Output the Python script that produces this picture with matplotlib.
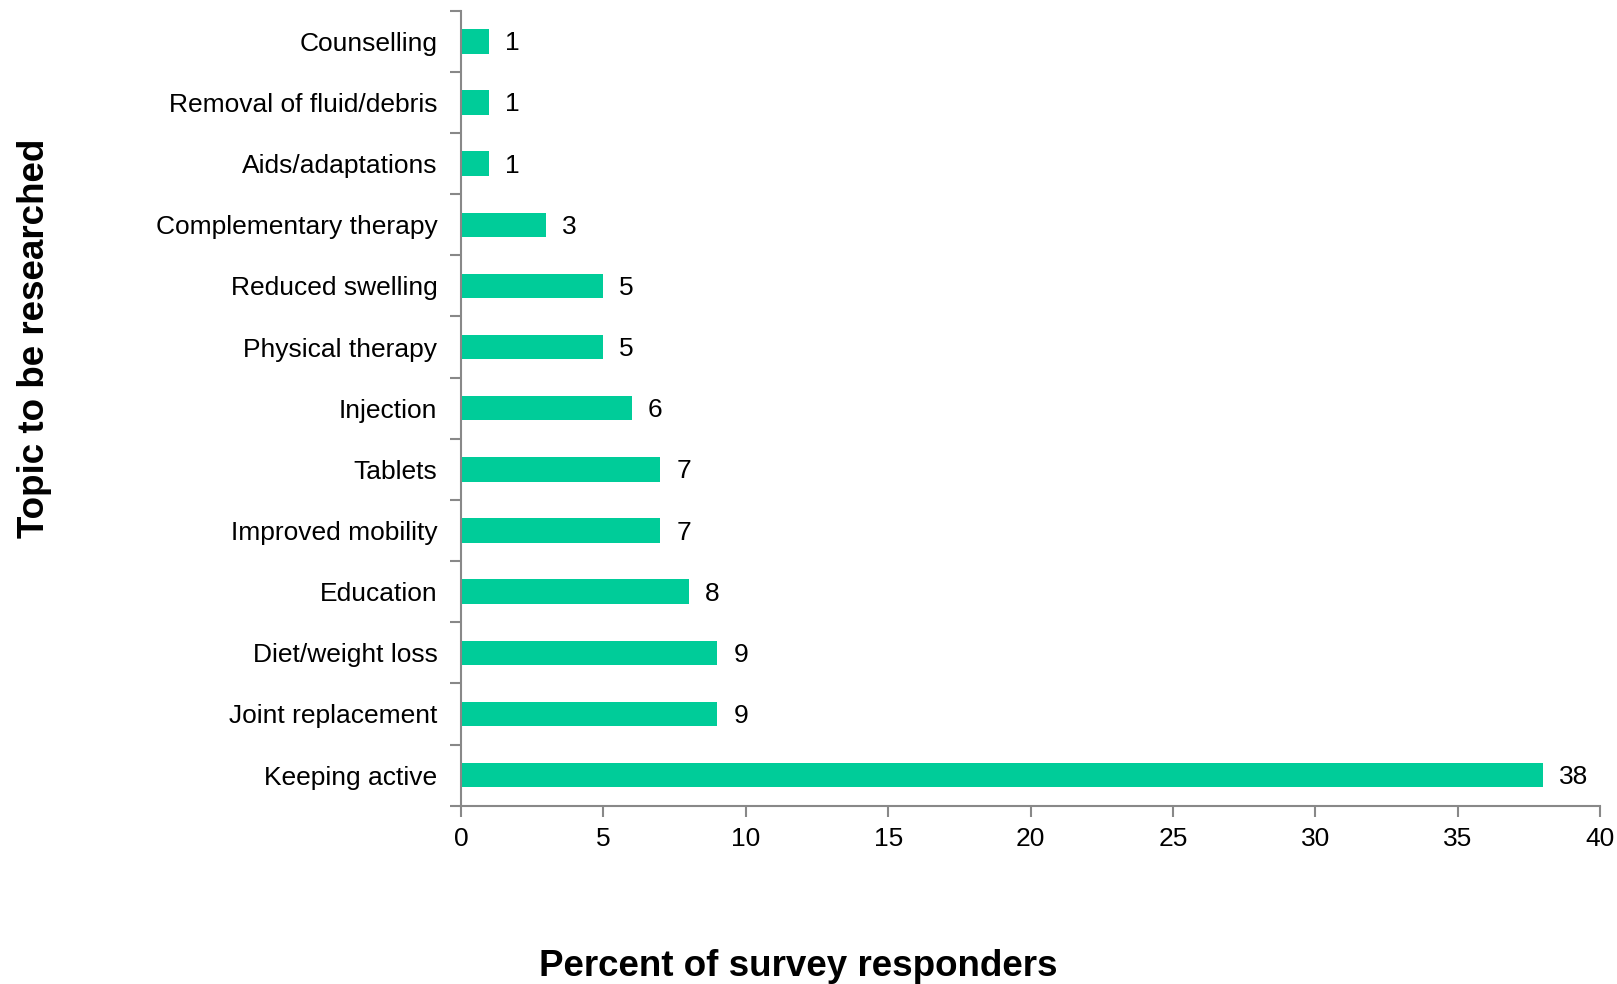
import matplotlib
matplotlib.use("Agg")
import matplotlib.pyplot as plt
from matplotlib.transforms import offset_copy

categories = ["Counselling", "Removal of fluid/debris", "Aids/adaptations",
              "Complementary therapy", "Reduced swelling", "Physical therapy",
              "Injection", "Tablets", "Improved mobility", "Education",
              "Diet/weight loss", "Joint replacement", "Keeping active"]
values = [1, 1, 1, 3, 5, 5, 6, 7, 7, 8, 9, 9, 38]
xticks = [0, 5, 10, 15, 20, 25, 30, 35, 40]

plt.rcParams['font.family'] = ['Liberation Sans', 'DejaVu Sans']

fig = plt.figure(figsize=(16.17, 9.84), dpi=100)
ax = fig.add_axes([0.2851, 0.1812, 0.9895 - 0.2851, 0.9891 - 0.1812])

FS = 19
n = len(categories)
pos = list(range(n))
ax.barh(pos, values, height=0.4, color="#00CC99")
ax.set_ylim(n - 0.5, -0.5)
ax.set_xlim(0, 40)

ax.set_yticks(pos)
ax.set_yticklabels(categories, fontsize=FS)
ax.set_yticks([i - 0.5 for i in range(n + 1)], minor=True)
ax.tick_params(axis='y', which='major', length=0, pad=17)
ax.tick_params(axis='y', which='minor', length=8, width=1.5, color="#888888")
ax.set_xticks(xticks)
ax.set_xticklabels([str(t) for t in xticks], fontsize=FS)
ax.tick_params(axis='x', which='major', length=8, width=1.5, color="#888888", pad=7)

for s in ["top", "right"]:
    ax.spines[s].set_visible(False)
for s in ["left", "bottom"]:
    ax.spines[s].set_color("#888888")
    ax.spines[s].set_linewidth(1.5)

for i, v in enumerate(values):
    tr = offset_copy(ax.transData, fig=fig, x=16, y=-2, units='dots')
    ax.text(v, i, str(v), transform=tr, va='center', ha='left', fontsize=FS)

fig.text(0.4937, 0.018, "Percent of survey responders", ha='center', va='center',
         fontsize=26.5, fontweight='bold')
fig.text(0.0215, 0.6565, "Topic to be researched", ha='center', va='center',
         rotation=90, fontsize=26.5, fontweight='bold')

fig.savefig("out.png", dpi=100)
